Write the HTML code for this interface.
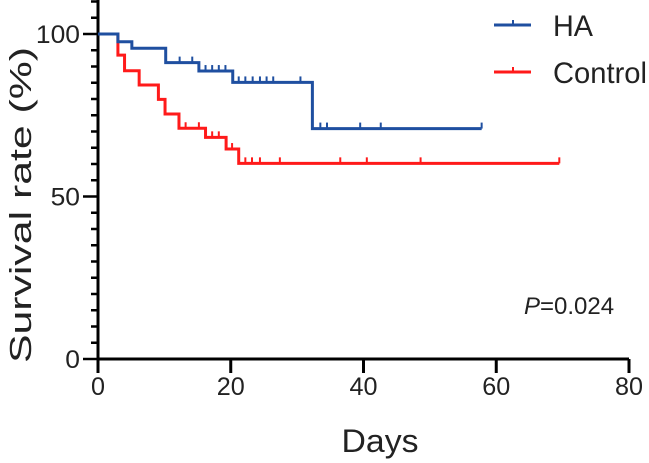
<!DOCTYPE html>
<html><head><meta charset="utf-8"><style>
body{margin:0;background:#fff;}
svg{display:block;font-family:"Liberation Sans",Arial,sans-serif;}
</style></head><body>
<svg id="chart" width="649" height="463" viewBox="0 0 649 463"></svg>
<script>
const haTimes=[0,3,5.1,10.2,15.2,20.3,32.3,57.8];
const haSurv=[100,97.6,95.6,91.2,88.6,85.1,70.9,70.9];
const haCensor=[12.3,14.2,16.2,17.2,18.2,19.2,21.2,22.2,23.3,24.4,25.4,26.4,30.5,33.5,34.5,39.5,42.6,57.8];
const ctTimes=[0,3,4,6.2,9.1,10.1,12.2,16.2,19.3,21.2,69.5];
const ctSurv=[100,93.5,88.7,84.3,79.9,75.4,71,68.2,64.6,60.2,60.2];
const ctCensor=[13.2,15.2,17.2,18.2,20.2,22.2,23.2,24.4,27.4,36.5,40.5,48.6,69.5];
const xTicks=[0,20,40,60,80];
const yTicks=[0,50,100];
const NS="http://www.w3.org/2000/svg";
const svg=document.getElementById('chart');
const X=d=>98+d*(629-98)/80;
const Y=v=>359-v*3.25;
function mk(t,a){const e=document.createElementNS(NS,t);for(const k in a)e.setAttribute(k,a[k]);svg.appendChild(e);return e;}
let e=mk('line',{x1:98,y1:0,x2:98,y2:360.5,stroke:'#000','stroke-width':3});


e=mk('line',{x1:96.5,y1:359,x2:629,y2:359,stroke:'#000','stroke-width':3});


for(let v=0;v<=110;v+=5){
 const maj=v%50===0;
 e=mk('line',{x1:maj?83:91,x2:98,y1:Y(v),y2:Y(v),stroke:'#000','stroke-width':2.5});
 
 
}
yTicks.forEach(v=>{
 const s=String(v);
 e=mk('text',{x:80,y:Y(v)+9,'text-anchor':'end','font-size':25,fill:'#222',textLength:14.7*s.length,lengthAdjust:'spacingAndGlyphs'});e.textContent=s;
 
 
});
xTicks.forEach(v=>{
 const s=String(v);
 e=mk('line',{x1:X(v),x2:X(v),y1:359,y2:373,stroke:'#000','stroke-width':3});
 
 
 e=mk('text',{x:X(v),y:395,'text-anchor':'middle','font-size':25,fill:'#222',textLength:14*s.length,lengthAdjust:'spacingAndGlyphs'});e.textContent=s;
 
 
});
e=mk('text',{x:380,y:452,'text-anchor':'middle','font-size':32,fill:'#222',textLength:77,lengthAdjust:'spacingAndGlyphs'});e.textContent='Days';


e=mk('text',{x:0,y:0,'text-anchor':'middle','font-size':31,fill:'#222',textLength:316,lengthAdjust:'spacingAndGlyphs',transform:'translate(31,205) rotate(-90)'});e.textContent='Survival rate (%)';


function series(times,surv,cens,color,name){
 let d='M'+X(times[0])+','+Y(surv[0]);
 for(let i=1;i<times.length;i++){d+=' H'+X(times[i])+' V'+Y(surv[i]);}
 const p=mk('path',{d:d,fill:'none',stroke:color,'stroke-width':3});
 
 
 cens.forEach(c=>{
  let s=surv[0];
  for(let i=0;i<times.length;i++){if(times[i]<=c)s=surv[i];}
  const t=mk('line',{x1:X(c),x2:X(c),y1:Y(s),y2:Y(s)-6,stroke:color,'stroke-width':2});
  
  
 });
}
series(ctTimes,ctSurv,ctCensor,'#ff1a1a','control');
series(haTimes,haSurv,haCensor,'#1f4fa0','ha');
[['HA','#1f4fa0',25,40],['Control','#ff1a1a',72,94]].forEach(([n,c,y,w])=>{
 e=mk('line',{x1:494,x2:531,y1:y,y2:y,stroke:c,'stroke-width':3});
 
 
 e=mk('line',{x1:513,x2:513,y1:y,y2:y-5,stroke:c,'stroke-width':2});
 
 
 e=mk('text',{x:553,y:y+11,'font-size':30,fill:'#222',textLength:w,lengthAdjust:'spacingAndGlyphs'});e.textContent=n;
 
 
});
e=mk('text',{x:524,y:314,'font-size':24,fill:'#222'});
e.innerHTML='<tspan font-style="italic">P</tspan>=0.024';


</script>
</body></html>
